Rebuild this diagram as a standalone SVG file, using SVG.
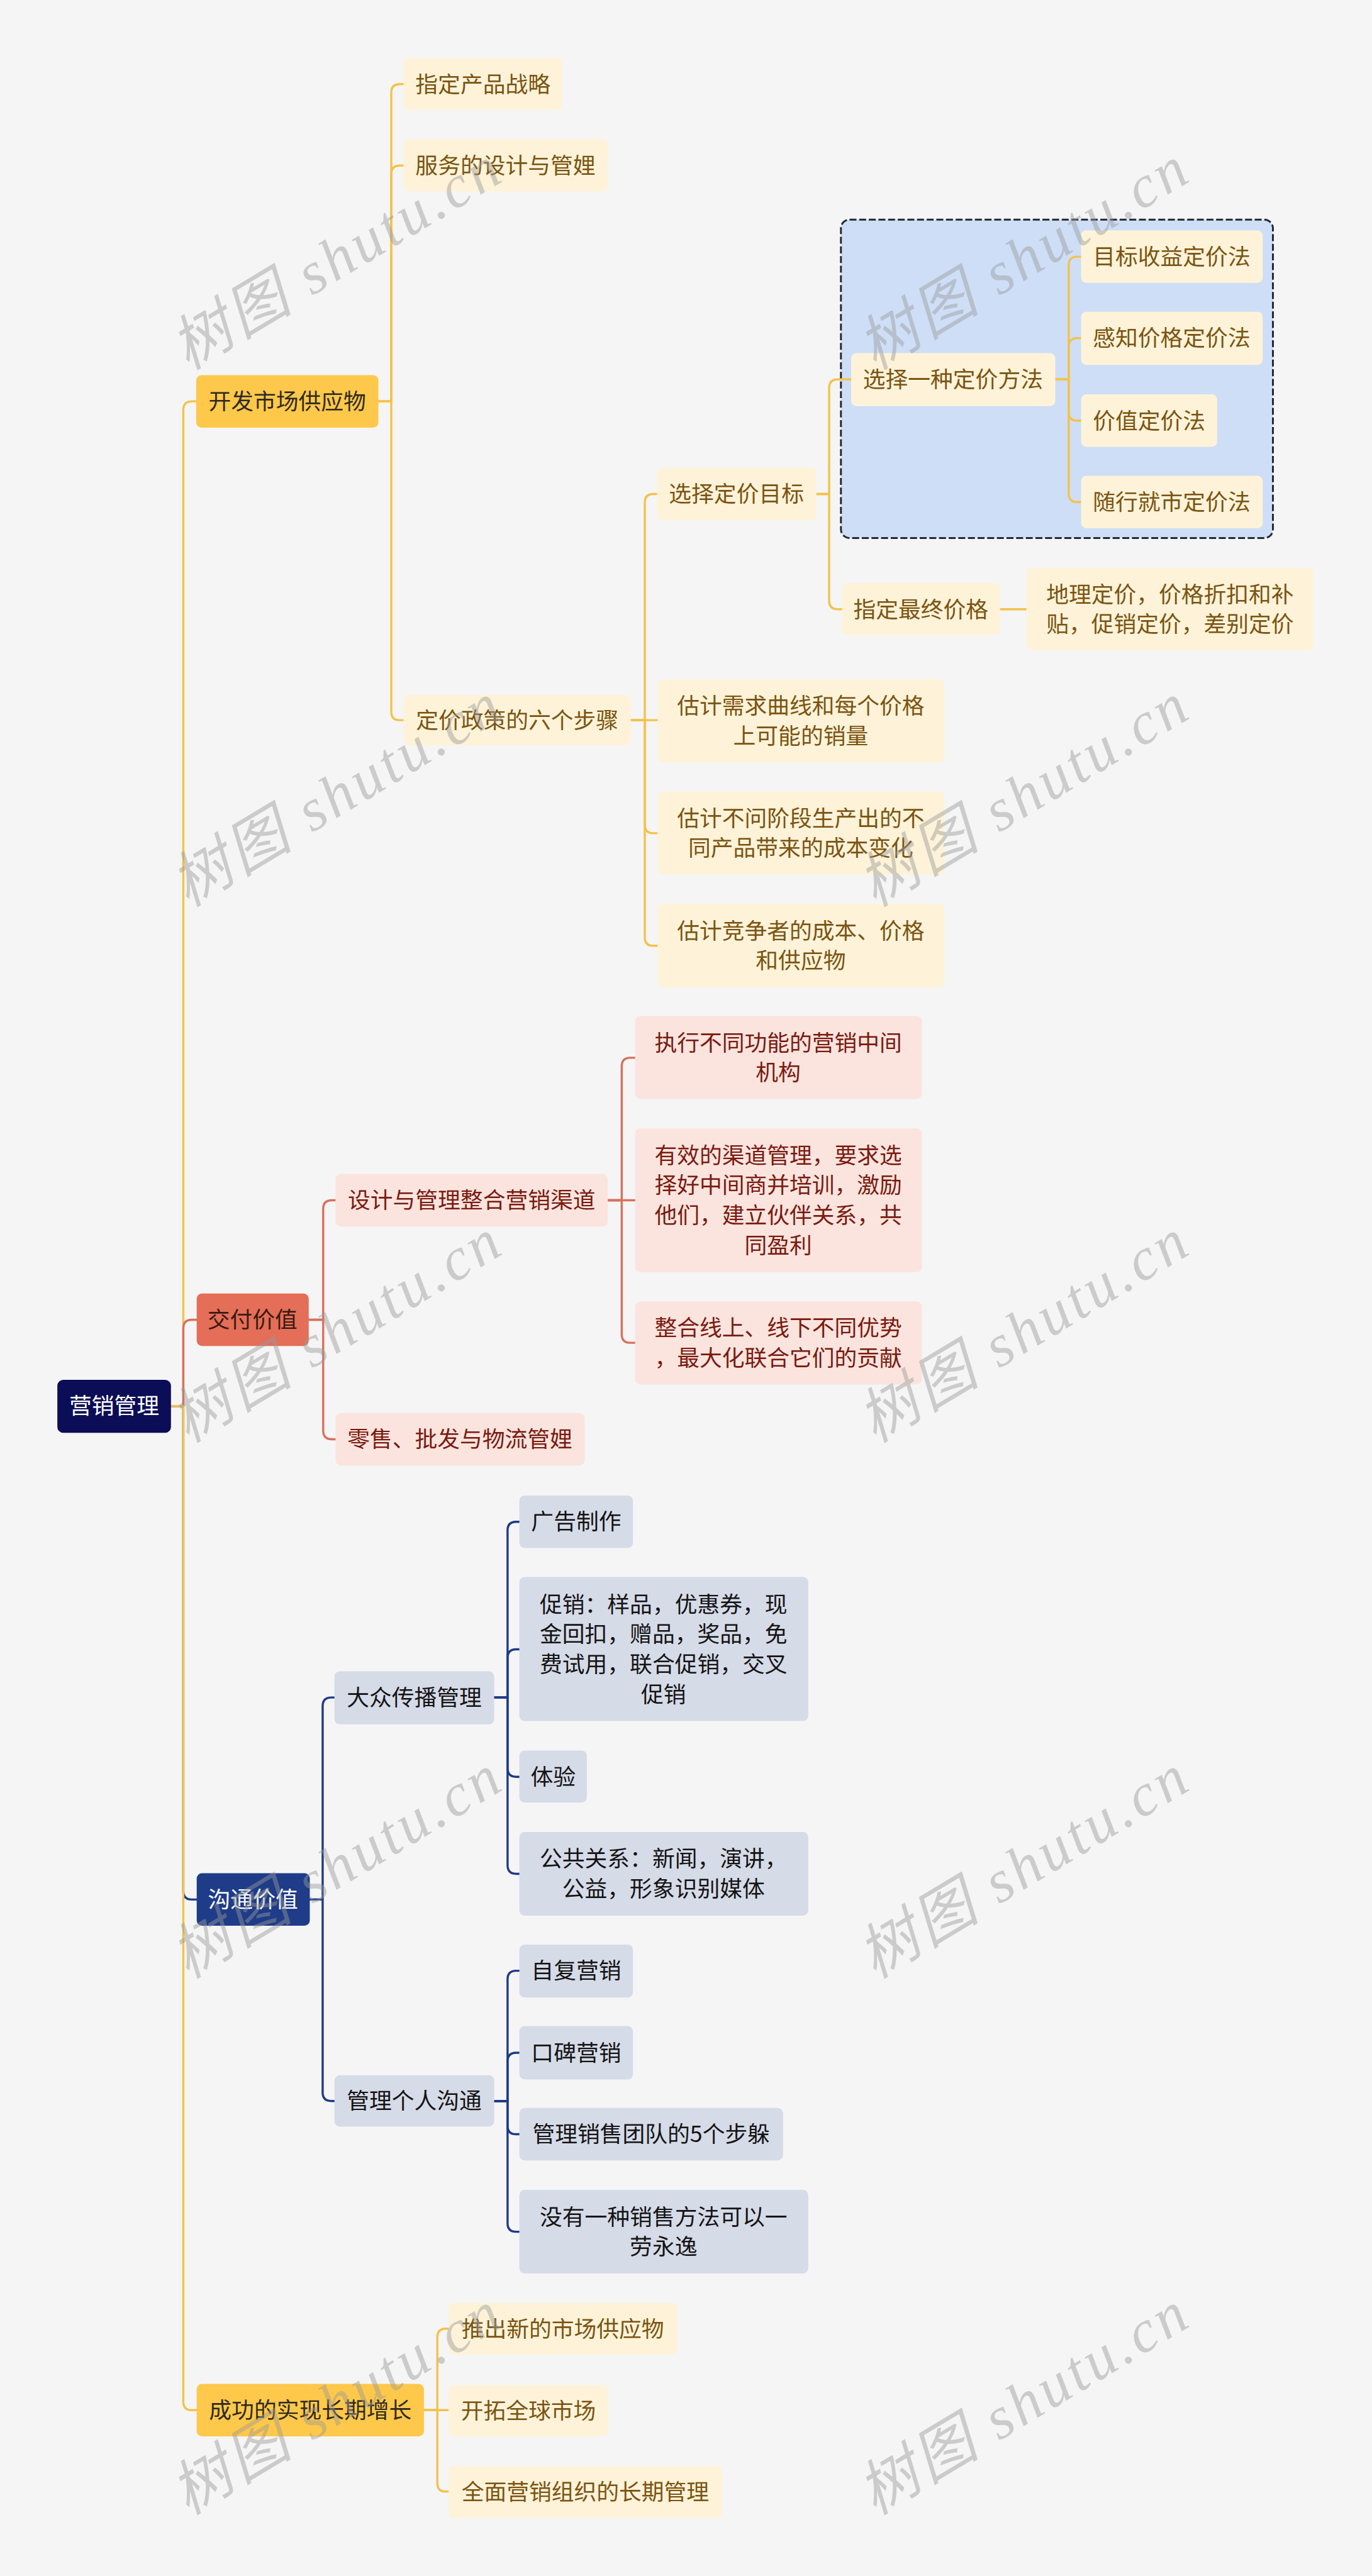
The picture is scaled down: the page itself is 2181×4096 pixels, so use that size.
<svg xmlns="http://www.w3.org/2000/svg" width="2181" height="4096" viewBox="0 0 2181 4096">
<style>
.t{font-family:"Noto Sans CJK SC","Noto Sans",sans-serif;font-size:42px;text-anchor:middle}
.ty{fill:#7b5412}.tr{fill:#7a1a10}.tn{fill:#141414}.tw{fill:#ffffff}.td{fill:#2e2a1e}.tdr{fill:#3a1a12}
.ny{fill:#fef3d8}.nr{fill:#fbe4de}.nn{fill:#d6dbe8}
.c{fill:none;stroke-width:4;stroke-linecap:round;stroke-linejoin:round}
.cy{stroke:#f4c24a}.cr{stroke:#d9705c}.cn{stroke:#1e3a87}
.wm{font-family:"Liberation Serif","Noto Sans CJK SC",serif;font-style:italic;font-size:112px;fill:#9a9a9a;fill-opacity:0.45}
</style>
<rect width="2181" height="4096" fill="#f5f5f5"/>
<g transform="scale(0.852)">
<rect id="group-box" x="1569" y="410" width="806" height="594" rx="16" fill="#cedef6" stroke="#222a33" stroke-width="3.5" stroke-dasharray="13 5"/>
<g id="connectors">
<path class="c cy" d="M318 2624H342V765Q342 749 358 749H366"/>
<path class="c cr" d="M318 2624H342V2479Q342 2463 358 2463H367"/>
<path class="c cn" d="M318 2624H342V3529Q342 3545 358 3545H367"/>
<path class="c cy" d="M318 2624H342V4482Q342 4498 358 4498H367"/>
<path class="c cy" d="M706 749H730V173Q730 157 746 157H753"/>
<path class="c cy" d="M706 749H730V325Q730 309 746 309H753"/>
<path class="c cy" d="M706 749H730V1328Q730 1344 746 1344H753"/>
<path class="c cy" d="M1177 1344H1203V938Q1203 922 1219 922H1226"/>
<path class="c cy" d="M1177 1344H1227"/>
<path class="c cy" d="M1177 1344H1203V1539Q1203 1555 1219 1555H1227"/>
<path class="c cy" d="M1177 1344H1203V1749Q1203 1765 1219 1765H1227"/>
<path class="c cy" d="M1523 922H1547V724Q1547 708 1563 708H1588"/>
<path class="c cy" d="M1523 922H1547V1121Q1547 1137 1563 1137H1571"/>
<path class="c cy" d="M1969 708H1994V495Q1994 479 2010 479H2017"/>
<path class="c cy" d="M1969 708H1994V647Q1994 631 2010 631H2017"/>
<path class="c cy" d="M1969 708H1994V769Q1994 785 2010 785H2017"/>
<path class="c cy" d="M1969 708H1994V921Q1994 937 2010 937H2017"/>
<path class="c cy" d="M1866 1137H1915"/>
<path class="c cr" d="M576 2463H603V2256Q603 2240 619 2240H626"/>
<path class="c cr" d="M576 2463H603V2670Q603 2686 619 2686H626"/>
<path class="c cr" d="M1134 2240H1160V1990Q1160 1974 1176 1974H1185"/>
<path class="c cr" d="M1134 2240H1185"/>
<path class="c cr" d="M1134 2240H1160V2490Q1160 2506 1176 2506H1185"/>
<path class="c cn" d="M578 3545H602V3184Q602 3168 618 3168H624"/>
<path class="c cn" d="M578 3545H602V3905Q602 3921 618 3921H624"/>
<path class="c cn" d="M922 3168H947V2856Q947 2840 963 2840H969"/>
<path class="c cn" d="M922 3168H947V3094Q947 3078 963 3078H969"/>
<path class="c cn" d="M922 3168H947V3300Q947 3316 963 3316H969"/>
<path class="c cn" d="M922 3168H947V3481Q947 3497 963 3497H969"/>
<path class="c cn" d="M922 3921H947V3694Q947 3678 963 3678H969"/>
<path class="c cn" d="M922 3921H947V3847Q947 3831 963 3831H969"/>
<path class="c cn" d="M922 3921H947V3967Q947 3983 963 3983H969"/>
<path class="c cn" d="M922 3921H947V4149Q947 4165 963 4165H969"/>
<path class="c cy" d="M791 4498H816V4362Q816 4346 832 4346H837"/>
<path class="c cy" d="M791 4498H837"/>
<path class="c cy" d="M791 4498H816V4634Q816 4650 832 4650H837"/>
</g>
<g id="root"><rect x="107" y="2575" width="212" height="99" rx="11" fill="#0b0d57"/><text class="t tw" x="213" y="2639">营销管理</text></g>
<g id="n-kaifa"><rect x="366" y="700" width="340" height="98" rx="10" fill="#fec84a"/><text class="t td" x="536" y="764">开发市场供应物</text></g>
<g id="n-zhiding"><rect class="ny" x="753" y="108" width="296" height="97" rx="10"/><text class="t ty" x="901" y="172">指定产品战略</text></g>
<g id="n-fuwu"><rect class="ny" x="753" y="260" width="381" height="97" rx="10"/><text class="t ty" x="943" y="324">服务的设计与管娌</text></g>
<g id="n-dingjia"><rect class="ny" x="753" y="1297" width="424" height="94" rx="10"/><text class="t ty" x="965" y="1359">定价政策的六个步骤</text></g>
<g id="n-mubiao"><rect class="ny" x="1226" y="873" width="297" height="98" rx="10"/><text class="t ty" x="1374" y="937">选择定价目标</text></g>
<g id="n-fangfa"><rect class="ny" x="1588" y="659" width="381" height="99" rx="10"/><text class="t ty" x="1778" y="723">选择一种定价方法</text></g>
<g id="n-shouyi"><rect class="ny" x="2017" y="430" width="339" height="98" rx="10"/><text class="t ty" x="2186" y="494">目标收益定价法</text></g>
<g id="n-ganzhi"><rect class="ny" x="2017" y="582" width="339" height="99" rx="10"/><text class="t ty" x="2186" y="646">感知价格定价法</text></g>
<g id="n-jiazhi"><rect class="ny" x="2017" y="736" width="254" height="98" rx="10"/><text class="t ty" x="2144" y="800">价值定价法</text></g>
<g id="n-suixing"><rect class="ny" x="2017" y="888" width="339" height="98" rx="10"/><text class="t ty" x="2186" y="952">随行就市定价法</text></g>
<g id="n-zuizhong"><rect class="ny" x="1571" y="1088" width="295" height="97" rx="10"/><text class="t ty" x="1718" y="1152">指定最终价格</text></g>
<g id="n-dili"><rect class="ny" x="1915" y="1060" width="536" height="153" rx="10"/><text class="t ty" x="2183" y="1124">地理定价，价格折扣和补</text><text class="t ty" x="2183" y="1180">贴，促销定价，差别定价</text></g>
<g id="n-xuqiu"><rect class="ny" x="1227" y="1268" width="535" height="155" rx="10"/><text class="t ty" x="1494" y="1332">估计需求曲线和每个价格</text><text class="t ty" x="1494" y="1388">上可能的销量</text></g>
<g id="n-butong"><rect class="ny" x="1227" y="1477" width="535" height="155" rx="10"/><text class="t ty" x="1494" y="1542">估计不问阶段生产出的不</text><text class="t ty" x="1494" y="1598">同产品带来的成本变化</text></g>
<g id="n-jingzheng"><rect class="ny" x="1227" y="1687" width="535" height="156" rx="10"/><text class="t ty" x="1494" y="1752">估计竞争者的成本、价格</text><text class="t ty" x="1494" y="1808">和供应物</text></g>
<g id="n-jiaofu"><rect x="367" y="2414" width="209" height="98" rx="10" fill="#e46e57"/><text class="t tdr" x="471" y="2478">交付价值</text></g>
<g id="n-qudao"><rect class="nr" x="626" y="2191" width="508" height="98" rx="10"/><text class="t tr" x="880" y="2255">设计与管理整合营销渠道</text></g>
<g id="n-zhixing"><rect class="nr" x="1185" y="1896" width="535" height="155" rx="10"/><text class="t tr" x="1452" y="1961">执行不同功能的营销中间</text><text class="t tr" x="1452" y="2017">机构</text></g>
<g id="n-youxiao"><rect class="nr" x="1185" y="2106" width="535" height="268" rx="10"/><text class="t tr" x="1452" y="2171">有效的渠道管理，要求选</text><text class="t tr" x="1452" y="2227">择好中间商并培训，激励</text><text class="t tr" x="1452" y="2283">他们，建立伙伴关系，共</text><text class="t tr" x="1452" y="2339">同盈利</text></g>
<g id="n-zhenghe"><rect class="nr" x="1185" y="2429" width="535" height="155" rx="10"/><text class="t tr" x="1452" y="2493">整合线上、线下不同优势</text><text class="t tr" x="1452" y="2549">，最大化联合它们的贡献</text></g>
<g id="n-lingshou"><rect class="nr" x="626" y="2637" width="465" height="98" rx="10"/><text class="t tr" x="858" y="2701">零售、批发与物流管娌</text></g>
<g id="n-goutong"><rect x="367" y="3496" width="211" height="98" rx="10" fill="#1e3c88"/><text class="t tw" x="472" y="3560">沟通价值</text></g>
<g id="n-dazhong"><rect class="nn" x="624" y="3119" width="298" height="99" rx="10"/><text class="t tn" x="773" y="3183">大众传播管理</text></g>
<g id="n-guanggao"><rect class="nn" x="969" y="2791" width="212" height="98" rx="10"/><text class="t tn" x="1075" y="2855">广告制作</text></g>
<g id="n-cuxiao"><rect class="nn" x="969" y="2943" width="539" height="269" rx="10"/><text class="t tn" x="1238" y="3009">促销：样品，优惠券，现</text><text class="t tn" x="1238" y="3065">金回扣，赠品，奖品，免</text><text class="t tn" x="1238" y="3121">费试用，联合促销，交叉</text><text class="t tn" x="1238" y="3177">促销</text></g>
<g id="n-tiyan"><rect class="nn" x="969" y="3267" width="126" height="97" rx="10"/><text class="t tn" x="1032" y="3331">体验</text></g>
<g id="n-gonggong"><rect class="nn" x="969" y="3419" width="539" height="156" rx="10"/><text class="t tn" x="1238" y="3484">公共关系：新闻，演讲，</text><text class="t tn" x="1238" y="3540">公益，形象识别媒体</text></g>
<g id="n-geren"><rect class="nn" x="624" y="3873" width="298" height="96" rx="10"/><text class="t tn" x="773" y="3936">管理个人沟通</text></g>
<g id="n-zifu"><rect class="nn" x="969" y="3629" width="212" height="99" rx="10"/><text class="t tn" x="1075" y="3693">自复营销</text></g>
<g id="n-koubei"><rect class="nn" x="969" y="3781" width="212" height="100" rx="10"/><text class="t tn" x="1075" y="3846">口碑营销</text></g>
<g id="n-tuandui"><rect class="nn" x="969" y="3934" width="492" height="98" rx="10"/><text class="t tn" x="1215" y="3998">管理销售团队的5个步躲</text></g>
<g id="n-meiyou"><rect class="nn" x="969" y="4087" width="539" height="156" rx="10"/><text class="t tn" x="1238" y="4152">没有一种销售方法可以一</text><text class="t tn" x="1238" y="4208">劳永逸</text></g>
<g id="n-chenggong"><rect x="367" y="4449" width="424" height="98" rx="10" fill="#fec84a"/><text class="t td" x="579" y="4513">成功的实现长期增长</text></g>
<g id="n-tuichu"><rect class="ny" x="837" y="4298" width="426" height="96" rx="10"/><text class="t ty" x="1050" y="4361">推出新的市场供应物</text></g>
<g id="n-kaituo"><rect class="ny" x="837" y="4451" width="298" height="96" rx="10"/><text class="t ty" x="986" y="4514">开拓全球市场</text></g>
<g id="n-quanmian"><rect class="ny" x="837" y="4602" width="510" height="97" rx="10"/><text class="t ty" x="1092" y="4665">全面营销组织的长期管理</text></g>
<g id="watermarks">
<text class="wm" transform="translate(350 692) rotate(-31)" textLength="690" lengthAdjust="spacing">树图 shutu.cn</text>
<text class="wm" transform="translate(1632 692) rotate(-31)" textLength="690" lengthAdjust="spacing">树图 shutu.cn</text>
<text class="wm" transform="translate(350 1694) rotate(-31)" textLength="690" lengthAdjust="spacing">树图 shutu.cn</text>
<text class="wm" transform="translate(1632 1694) rotate(-31)" textLength="690" lengthAdjust="spacing">树图 shutu.cn</text>
<text class="wm" transform="translate(350 2694) rotate(-31)" textLength="690" lengthAdjust="spacing">树图 shutu.cn</text>
<text class="wm" transform="translate(1632 2694) rotate(-31)" textLength="690" lengthAdjust="spacing">树图 shutu.cn</text>
<text class="wm" transform="translate(350 3694) rotate(-31)" textLength="690" lengthAdjust="spacing">树图 shutu.cn</text>
<text class="wm" transform="translate(1632 3694) rotate(-31)" textLength="690" lengthAdjust="spacing">树图 shutu.cn</text>
<text class="wm" transform="translate(350 4695) rotate(-31)" textLength="690" lengthAdjust="spacing">树图 shutu.cn</text>
<text class="wm" transform="translate(1632 4695) rotate(-31)" textLength="690" lengthAdjust="spacing">树图 shutu.cn</text>
</g>
</g>
</svg>
